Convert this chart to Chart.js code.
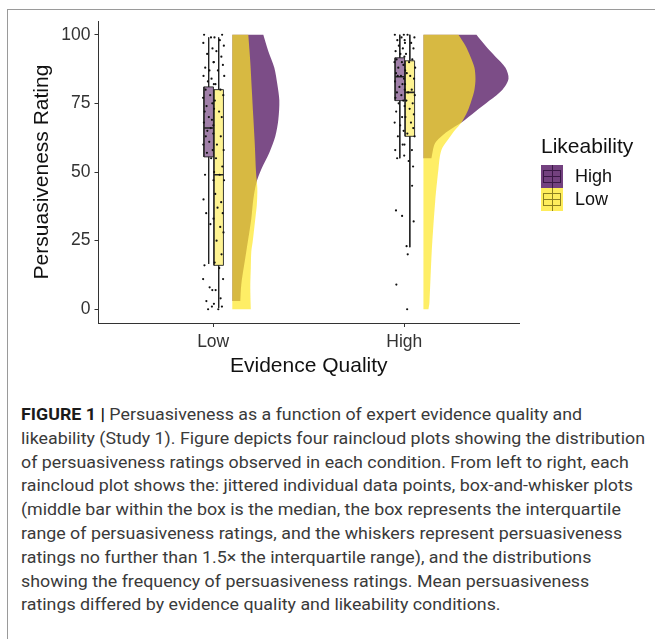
<!DOCTYPE html>
<html>
<head>
<meta charset="utf-8">
<script src="https://cdn.jsdelivr.net/npm/chart.js@4.4.0/dist/chart.umd.min.js"></script>
<style>
  body { margin: 0; background: #fff; width: 655px; height: 639px; overflow: hidden; position: relative; font-family: "Liberation Sans", Arial, sans-serif; }
  #frame { position: absolute; left: 7px; top: 9px; width: 700px; height: 700px; border-left: 1px solid #9a9a9a; border-top: 1px solid #9a9a9a; }
  #wrap { position: absolute; left: 0; top: 0; width: 655px; height: 390px; }
  #legend { position: absolute; left: 540px; top: 134px; color: #111; }
  #legend .ltitle { position: absolute; left: 1px; top: 0; font-size: 21px; white-space: nowrap; }
  .key { position: absolute; left: 1px; width: 22px; height: 23px; }
  .key .wh { position: absolute; left: 10.5px; top: 0; width: 1px; height: 23px; }
  .key .bx { position: absolute; left: 2px; top: 5px; width: 16px; height: 11px; border: 1px solid; }
  .key .md { position: absolute; left: 2px; top: 11px; width: 18px; height: 1px; }
  .lab { position: absolute; left: 35px; font-size: 18px; white-space: nowrap; }
  #caption { position: absolute; left: 21px; top: 403px; font-family: Roboto, "Liberation Sans", sans-serif; font-size: 17px; line-height: 23.8px; color: #3a3a3a; white-space: nowrap; transform-origin: 0 0; }
  #caption div { display: table; }
  #caption b { color: #1a1a1a; }
</style>
</head>
<body>
<div id="frame"></div>
<div id="wrap"><canvas id="myChart" width="655" height="390"></canvas></div>
<div id="legend">
  <div class="ltitle">Likeability</div>
  <div class="key" style="top:31px;background:rgba(68,1,84,0.75)"><div class="wh" style="background:#3a1846"></div><div class="bx" style="border-color:#3a1846"></div><div class="md" style="background:#3a1846"></div></div>
  <div class="lab" style="top:32px">High</div>
  <div class="key" style="top:54px;background:rgba(253,231,37,0.75)"><div class="wh" style="background:#8c8020"></div><div class="bx" style="border-color:#8c8020"></div><div class="md" style="background:#8c8020"></div></div>
  <div class="lab" style="top:55px">Low</div>
</div>
<div id="caption">
  <div><b>FIGURE 1 |</b> Persuasiveness as a function of expert evidence quality and</div>
  <div id="widest">likeability (Study 1). Figure depicts four raincloud plots showing the distribution</div>
  <div>of persuasiveness ratings observed in each condition. From left to right, each</div>
  <div>raincloud plot shows the: jittered individual data points, box-and-whisker plots</div>
  <div>(middle bar within the box is the median, the box represents the interquartile</div>
  <div>range of persuasiveness ratings, and the whiskers represent persuasiveness</div>
  <div>ratings no further than 1.5× the interquartile range), and the distributions</div>
  <div>showing the frequency of persuasiveness ratings. Mean persuasiveness</div>
  <div>ratings differed by evidence quality and likeability conditions.</div>
</div>
<script>
// evidence quality categories on the x axis (Low = 1, High = 2)
const categories = ['Low', 'High'];
const yTicks = [0, 25, 50, 75, 100];

// box stats: [lower whisker, Q1, median, Q3, upper whisker]
const boxLowEvHighLike = [16.5, 55.5, 66, 81, 99];
const boxLowEvLowLike = [0.5, 16, 49, 80, 99];
const boxHighEvHighLike = [55, 76, 84.7, 91.6, 100];
const boxHighEvLowLike = [22.6, 63, 79, 90.5, 100];

// half-violin outlines: rating values and density (relative width)
const violinLowEvHighLikeY = [100, 94, 88, 82, 76, 69, 63, 57, 51, 46, 40, 33, 21, 9, 3];
const violinLowEvHighLikeD = [31, 36, 42, 45, 47, 46, 43, 37, 29, 24, 21, 19, 14, 9, 8];
const violinLowEvLowLikeY = [100, 90, 80, 70, 60, 50, 44, 38, 33, 25, 21, 15, 8, 0];
const violinLowEvLowLikeD = [16, 18, 19.5, 21, 22.5, 23.7, 25, 24.5, 23, 20.5, 19, 18.5, 18, 18.5];
const violinHighEvHighLikeY = [100, 96, 92, 88, 84, 80, 76, 72, 68, 65, 62, 60, 57, 55];
const violinHighEvHighLikeD = [53, 62, 72, 82, 85, 79, 66, 52, 38, 25, 15, 11, 9, 8];
const violinHighEvLowLikeY = [100, 96, 92, 88, 84, 80, 76, 72, 68, 65, 63, 58, 51, 39, 21, 2.5, 0];
const violinHighEvLowLikeD = [35, 42, 47, 51, 52, 51, 48, 44, 38, 31, 27, 18, 15, 11.7, 8.3, 6, 5];

// raw ratings and their horizontal jitter
const ptsLowEvHighLike = [100, 99, 97, 95, 93, 90, 88, 87, 85, 84, 83, 82, 80, 78, 77, 75, 74, 73, 72, 70, 69, 68, 66, 65, 64, 63, 61, 60, 58, 57, 55, 49, 47, 40, 35, 31, 16, 11, 8, 7, 3, 1, 0];
const jitLowEvHighLike = [-0.024, 0.012, -0.028, 0.02, -0.008, 0.026, -0.018, 0.004, -0.027, 0.015, -0.004, 0.027, -0.016, 0.008, -0.029, 0.019, -0.011, 0.028, -0.021, 0.001, 0.017, -0.025, 0.011, -0.007, 0.024, -0.015, 0.003, -0.028, 0.021, -0.009, 0.013, -0.019, 0.025, -0.027, -0.013, 0.009, -0.022, -0.029, 0.005, 0.019, -0.012, 0.017, -0.003];
const ptsLowEvLowLike = [100, 99, 98, 96, 94, 92, 90, 89, 87, 85, 82, 80, 78, 76, 72, 70, 67, 63, 60, 58, 55, 52, 50, 49, 47, 42, 39, 37, 35, 33, 30, 28, 25, 20, 17, 15, 11, 7, 4, 2, 1, 0];
const jitLowEvLowLike = [0.018, -0.022, 0.006, 0.027, -0.012, 0.014, -0.026, 0.022, -0.004, 0.029, -0.017, 0.009, 0.024, -0.02, 0.002, 0.016, -0.028, 0.011, -0.009, 0.026, -0.014, 0.019, -0.024, 0.005, 0.028, -0.018, 0.013, -0.006, 0.021, -0.027, 0.008, 0.025, -0.011, 0.015, -0.021, 0.003, 0.023, -0.016, 0.01, -0.025, 0.017, -0.002];
const ptsHighEvHighLike = [100, 100, 99, 98, 97, 96, 95, 94, 93, 92, 91, 90, 90, 89, 88, 87, 86, 85, 85, 84, 83, 82, 81, 80, 79, 78, 77, 76, 75, 74, 72, 70, 68, 67, 65, 63, 60, 58, 56, 55, 36, 34, 9];
const jitHighEvHighLike = [0.021, -0.026, 0.009, -0.013, 0.027, -0.005, 0.016, -0.022, 0.003, 0.024, -0.017, 0.011, -0.028, 0.019, -0.008, 0.028, -0.02, 0.006, -0.011, 0.022, -0.025, 0.014, -0.002, 0.026, -0.015, 0.008, -0.023, 0.018, -0.006, 0.025, -0.019, 0.012, -0.027, 0.002, 0.02, -0.01, 0.015, -0.024, 0.023, -0.014, -0.02, 0.012, -0.018];
const ptsHighEvLowLike = [100, 99, 98, 97, 95, 93, 91, 90, 88, 86, 85, 84, 82, 80, 79, 78, 76, 75, 73, 71, 70, 68, 66, 64, 63, 60, 58, 54, 52, 45, 32, 23, 20, 0];
const jitHighEvLowLike = [-0.012, 0.024, -0.027, 0.007, 0.019, -0.02, 0.013, -0.004, 0.028, -0.016, 0.002, 0.022, -0.025, 0.01, -0.009, 0.026, -0.018, 0.015, -0.001, 0.021, -0.023, 0.006, 0.018, -0.013, 0.025, -0.028, 0.011, -0.006, 0.017, 0.012, 0.02, -0.017, -0.011, -0.014];

const purple = 'rgba(68, 1, 84, 0.7)';
const yellow = 'rgba(253, 231, 37, 0.7)';
const purpleBox = 'rgba(68, 1, 84, 0.5)';
const yellowBox = 'rgba(253, 231, 37, 0.5)';

const dodge = { high: -0.0236, low: 0.0288 };   // box / point offset from category
const violinBase = 0.1;                          // violin starts right of category
const violinScale = 1 / 191;                     // density -> x units
const boxHalf = 0.0249;

const groups = [
  { x: 1, off: dodge.high, box: boxLowEvHighLike, vy: violinLowEvHighLikeY, vd: violinLowEvHighLikeD, pts: ptsLowEvHighLike, jit: jitLowEvHighLike, fill: purple, boxFill: purpleBox, like: 'High' },
  { x: 1, off: dodge.low, box: boxLowEvLowLike, vy: violinLowEvLowLikeY, vd: violinLowEvLowLikeD, pts: ptsLowEvLowLike, jit: jitLowEvLowLike, fill: yellow, boxFill: yellowBox, like: 'Low' },
  { x: 2, off: dodge.high, box: boxHighEvHighLike, vy: violinHighEvHighLikeY, vd: violinHighEvHighLikeD, pts: ptsHighEvHighLike, jit: jitHighEvHighLike, fill: purple, boxFill: purpleBox, like: 'High' },
  { x: 2, off: dodge.low, box: boxHighEvLowLike, vy: violinHighEvLowLikeY, vd: violinHighEvLowLikeD, pts: ptsHighEvLowLike, jit: jitHighEvLowLike, fill: yellow, boxFill: yellowBox, like: 'Low' },
];

const datasets = [];
const line = (data, extra) => Object.assign({
  data, showLine: true, pointRadius: 0, borderColor: '#222', borderWidth: 1, fill: false, tension: 0
}, extra);

groups.forEach(g => {
  const base = g.x + violinBase;
  // half violin: curve down the right side, back up along the base.
  // corners are repeated so the smoothing keeps them sharp
  const curve = g.vy.map((v, i) => ({ x: base + g.vd[i] * violinScale, y: v }));
  const first = curve[0], last = curve[curve.length - 1];
  const bottom = { x: base, y: last.y }, top = { x: base, y: first.y };
  const outline = [first, ...curve, last, bottom, bottom, top, top];
  datasets.push(line(outline, {
    backgroundColor: g.fill, borderWidth: 0, borderColor: 'rgba(0,0,0,0)', fill: 'shape', tension: 0.3,
    order: g.like === 'High' ? 20 : 10
  }));

  const c = g.x + g.off;
  const [lo, q1, med, q3, hi] = g.box;
  datasets.push(line([{ x: c, y: hi }, { x: c, y: q3 }], { order: 5 }));
  datasets.push(line([{ x: c, y: q1 }, { x: c, y: lo }], { order: 5 }));
  datasets.push(line([
    { x: c - boxHalf, y: q1 }, { x: c + boxHalf, y: q1 }, { x: c + boxHalf, y: q3 },
    { x: c - boxHalf, y: q3 }, { x: c - boxHalf, y: q1 }
  ], { backgroundColor: g.boxFill, fill: 'shape', borderWidth: 0.9, order: 4 }));
  datasets.push(line([{ x: c - boxHalf, y: med }, { x: c + boxHalf, y: med }], { borderWidth: 1.6, order: 3 }));

  datasets.push({
    data: g.pts.map((v, i) => ({ x: c + (g.jit[i] ?? 0), y: v })),
    pointRadius: 1.1, pointBorderWidth: 0, backgroundColor: '#111', order: 0
  });
});

const ctx = document.getElementById('myChart').getContext('2d');
const axisColor = '#333';

new Chart(ctx, {
  type: 'scatter',
  data: { datasets },
  options: {
    responsive: false,
    animation: false,
    devicePixelRatio: 1,
    layout: { padding: { left: 0, top: 21, right: 136, bottom: 0 } },
    plugins: { legend: { display: false }, tooltip: { enabled: false } },
    scales: {
      x: {
        type: 'linear', min: 0.4, max: 2.6,
        afterFit: s => { s.height = 67; },
        afterBuildTicks: s => { s.ticks = categories.map((_, i) => ({ value: i + 1 })); },
        ticks: { callback: v => categories[v - 1] ?? '', color: axisColor, font: { family: 'Liberation Sans', size: 17.5 }, padding: 5, maxRotation: 0 },
        grid: { drawOnChartArea: false, tickLength: 4, color: axisColor },
        border: { color: axisColor, width: 1 },
        title: { display: true, text: 'Evidence Quality', color: '#111', font: { family: 'Liberation Sans', size: 21 }, padding: { bottom: 11 } }
      },
      y: {
        min: -5, max: 105,
        afterFit: s => { s.width = 98.5; },
        afterBuildTicks: s => { s.ticks = yTicks.map(v => ({ value: v })); },
        ticks: { color: axisColor, font: { family: 'Liberation Sans', size: 17.5 }, padding: 4 },
        grid: { drawOnChartArea: false, tickLength: 4, color: axisColor },
        border: { color: axisColor, width: 1 },
        title: { display: true, text: 'Persuasiveness Rating', color: '#111', font: { family: 'Liberation Sans', size: 21 }, padding: { top: 30 } }
      }
    }
  }
});

// stretch the caption so its widest line spans the same width as in the figure
const cap = document.getElementById('caption');
const w = document.getElementById('widest').getBoundingClientRect().width;
cap.style.transform = 'scaleX(' + (624 / w) + ')';
</script>
</body>
</html>
